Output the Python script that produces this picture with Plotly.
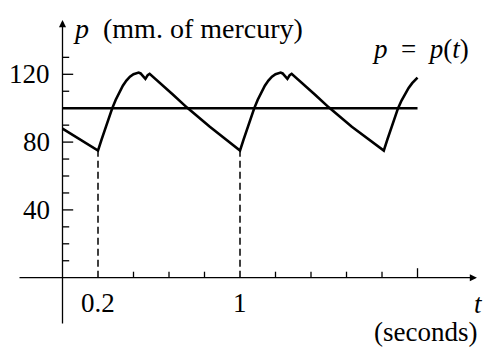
import plotly.graph_objects as go

# Blood pressure over time: p (mm of mercury) against t (seconds)
t = [0.0, 0.2,
     0.22, 0.24, 0.26, 0.28, 0.30, 0.32, 0.34, 0.36, 0.38, 0.40,
     0.415, 0.429, 0.44, 0.455, 0.467, 0.48, 0.491, 0.62, 0.70, 0.83, 1.0,
     1.02, 1.04, 1.06, 1.08, 1.10, 1.12, 1.14, 1.16, 1.18, 1.20,
     1.215, 1.229, 1.24, 1.255, 1.267, 1.28, 1.291, 1.42, 1.50, 1.63, 1.81,
     1.83, 1.85, 1.87, 1.89, 1.91, 1.93, 1.95, 1.97, 1.985, 2.0]
p = [88.0, 75.0,
     81.5, 87.8, 93.9, 99.9, 105.0, 109.5, 113.3, 116.3, 118.6, 120.1,
     120.8, 121.0, 120.5, 119.0, 117.3, 119.5, 120.3, 108.2, 100.5, 89.0, 75.0,
     81.5, 87.8, 93.9, 99.9, 105.0, 109.5, 113.3, 116.3, 118.6, 120.1,
     120.8, 121.0, 120.5, 119.0, 117.3, 119.5, 120.3, 108.2, 100.5, 89.0, 75.0,
     81.5, 87.8, 93.9, 99.9, 104.5, 108.5, 112.0, 114.8, 116.6, 118.0]

mean_pressure = 100.0
t_end = 2.0
dashed_t = [0.2, 1.0]
dashed_p = [75.0, 75.0]

x_minor_ticks = [0.4, 0.6, 0.8, 1.2, 1.4, 1.6, 1.8]
x_major_ticks = [2.0]
x_tick_labels = {0.2: "0.2", 1.0: "1"}

y_minor_ticks = [10, 20, 30, 50, 60, 70, 90, 100, 110, 130]
y_major_ticks = [40, 80, 120]

T_RANGE = [-0.3521, 2.3915]
P_RANGE = [-40.88, 163.83]

FONT = "Liberation Serif"
FS = 27
INK = "black"

fig = go.Figure()

# pressure curve
fig.add_trace(go.Scatter(x=t, y=p, mode="lines",
                         line=dict(color=INK, width=2.6),
                         hoverinfo="skip", showlegend=False))
# mean pressure level
fig.add_trace(go.Scatter(x=[0.0, t_end], y=[mean_pressure, mean_pressure],
                         mode="lines", line=dict(color=INK, width=2.4),
                         hoverinfo="skip", showlegend=False))

shapes = []
# dashed drop lines from the minima
for tv, pv in zip(dashed_t, dashed_p):
    shapes.append(dict(type="line", xref="x", yref="y", x0=tv, x1=tv, y0=0, y1=pv,
                       line=dict(color=INK, width=1.5, dash="7px,4px")))
# tick marks on the t axis
for tv in x_minor_ticks + x_major_ticks:
    ln = 9.5 if tv in x_major_ticks else 6
    shapes.append(dict(type="line", xref="x", yref="y", ysizemode="pixel", yanchor=0,
                       x0=tv, x1=tv, y0=0, y1=ln,
                       line=dict(color=INK, width=1.3)))
# tick marks on the p axis
for pv in y_minor_ticks + y_major_ticks:
    ln = 10.7 if pv in y_major_ticks else 6.7
    shapes.append(dict(type="line", xref="x", yref="y", xsizemode="pixel", xanchor=0,
                       x0=0, x1=ln, y0=pv, y1=pv,
                       line=dict(color=INK, width=1.3)))

annotations = []
# axes with arrow heads
annotations.append(dict(x=2.335, y=0, ax=-0.2507, ay=0, xref="x", yref="y",
                        axref="x", ayref="y", text="", showarrow=True,
                        arrowhead=2, arrowsize=1.1, arrowwidth=1.3, arrowcolor=INK,
                        standoff=0, startstandoff=0))
annotations.append(dict(x=0, y=152.0, ax=0, ay=-27.9, xref="x", yref="y",
                        axref="x", ayref="y", text="", showarrow=True,
                        arrowhead=2, arrowsize=1.1, arrowwidth=1.3, arrowcolor=INK,
                        standoff=0, startstandoff=0))


def label(text, size=FS, **kw):
    annotations.append(dict(text=text, showarrow=False, xref="x", yref="y",
                            font=dict(family=FONT, size=size, color=INK), **kw))


for pv in y_major_ticks:
    label(str(pv), x=0, y=pv, xanchor="right", yanchor="middle", xshift=-11)
for tv, lab in x_tick_labels.items():
    label(lab, x=tv, y=0, xanchor="center", yanchor="top", yshift=-8)

label("<i>p</i>&nbsp; (mm. of mercury)", size=28, x=0, y=P_RANGE[1],
      xanchor="left", yanchor="top", xshift=8, yshift=-11)
label("<i>p</i>&nbsp;&nbsp;=&nbsp;&nbsp;<i>p</i>(<i>t</i>)", x=t_end + 0.3, y=P_RANGE[1],
      xanchor="right", yanchor="top", yshift=-32)
label("<i>t</i>", x=2.335, y=0, xanchor="center", yanchor="top", xshift=2, yshift=-9)
label("(seconds)", x=2.335, y=P_RANGE[0], xanchor="right", yanchor="bottom",
      xshift=1, yshift=-1, borderpad=0)

fig.update_layout(
    width=487, height=347,
    margin=dict(l=0, r=0, t=0, b=0),
    font=dict(family=FONT, size=FS, color=INK),
    paper_bgcolor="white", plot_bgcolor="white",
    xaxis=dict(range=T_RANGE, visible=False, fixedrange=True),
    yaxis=dict(range=P_RANGE, visible=False, fixedrange=True),
    shapes=shapes, annotations=annotations,
)

fig.write_html("out.html")
